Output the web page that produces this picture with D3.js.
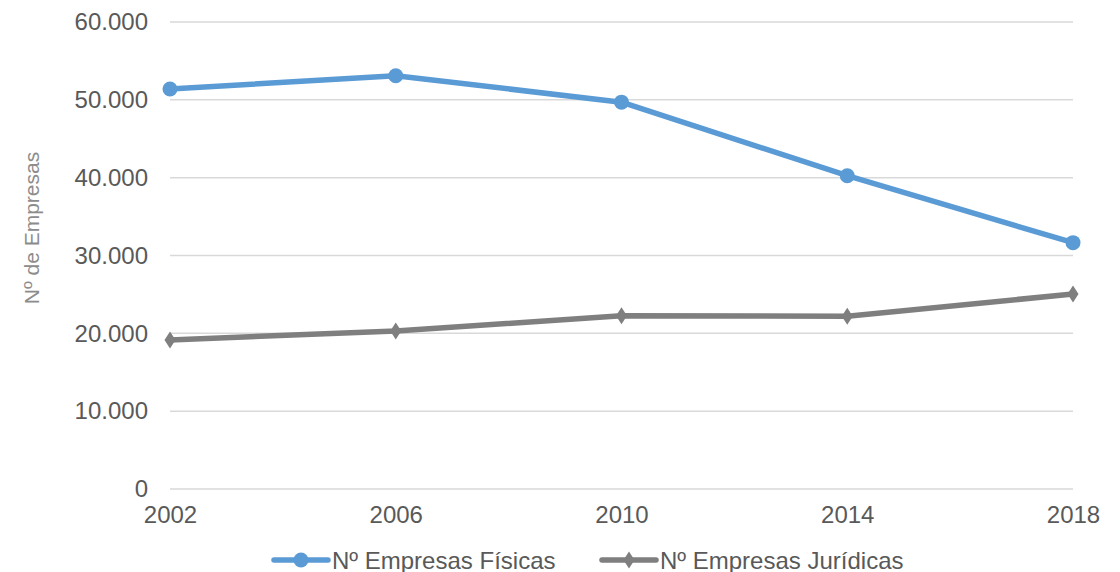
<!DOCTYPE html>
<html>
<head>
<meta charset="utf-8">
<script src="https://cdn.jsdelivr.net/npm/d3@7"></script>
<style>
  html, body { margin: 0; padding: 0; background: #fff; }
  svg { display: block; font-family: "Liberation Sans", Arial, sans-serif; }
</style>
</head>
<body>
<svg id="chart" width="1120" height="572"></svg>
<script>
// Number of companies by legal form
const years = ["2002", "2006", "2010", "2014", "2018"];
const fisicas = [51400, 53100, 49700, 40250, 31650];
const juridicas = [19150, 20300, 22250, 22200, 25050];
const yTicks = [0, 10000, 20000, 30000, 40000, 50000, 60000];
const seriesNames = ["Nº Empresas Físicas", "Nº Empresas Jurídicas"];

const svg = d3.select("#chart");
const margin = { left: 170, right: 47, top: 22, bottom: 83 };
const W = 1120, H = 572;

const x = d3.scalePoint().domain(years).range([margin.left, W - margin.right]);
const y = d3.scaleLinear().domain([0, 60000]).range([H - margin.bottom, margin.top]);

const fmt = v => d3.format(",")(v).replace(/,/g, ".");
const labelFont = "'Liberation Sans', Arial, sans-serif";

// horizontal gridlines
svg.append("g")
  .selectAll("line").data(yTicks).join("line")
  .attr("x1", margin.left).attr("x2", W - margin.right)
  .attr("y1", d => y(d)).attr("y2", d => y(d))
  .attr("stroke", "#d9d9d9").attr("stroke-width", 1.5);

// y axis labels
const yAxis = svg.append("g")
  .attr("transform", `translate(${margin.left - 22},0)`)
  .call(d3.axisLeft(y).tickValues(yTicks).tickFormat(fmt).tickSize(0).tickPadding(0));
yAxis.select(".domain").remove();
yAxis.selectAll("text")
  .attr("fill", "#595959").style("font-size", "24px").style("font-family", labelFont);

// x axis labels
const xAxis = svg.append("g")
  .attr("transform", `translate(0,${H - margin.bottom + 17})`)
  .call(d3.axisBottom(x).tickSize(0).tickPadding(0));
xAxis.select(".domain").remove();
xAxis.selectAll("text")
  .attr("fill", "#595959").style("font-size", "24px").style("font-family", labelFont);

// y axis title
svg.append("text")
  .attr("transform", "translate(39,228) rotate(-90)")
  .attr("text-anchor", "middle")
  .attr("fill", "#8c8c8c")
  .style("font-size", "21px")
  .text("Nº de Empresas");

const line = d3.line().x((d, i) => x(years[i])).y(d => y(d));
const blue = "#5b9bd5", grey = "#7f7f7f";
const diamond = "M0,-8.5L5.5,0L0,8.5L-5.5,0Z";

// Jurídicas series
svg.append("path").datum(juridicas)
  .attr("d", line).attr("fill", "none")
  .attr("stroke", grey).attr("stroke-width", 5.5).attr("stroke-linejoin", "round");
svg.append("g").selectAll("path").data(juridicas).join("path")
  .attr("d", diamond)
  .attr("transform", (d, i) => `translate(${x(years[i])},${y(d)})`)
  .attr("fill", grey);

// Físicas series
svg.append("path").datum(fisicas)
  .attr("d", line).attr("fill", "none")
  .attr("stroke", blue).attr("stroke-width", 5.5).attr("stroke-linejoin", "round");
svg.append("g").selectAll("circle").data(fisicas).join("circle")
  .attr("cx", (d, i) => x(years[i])).attr("cy", d => y(d))
  .attr("r", 7.5).attr("fill", blue);

// legend
const legend = svg.append("g").attr("transform", "translate(0,560)");
const items = [
  { name: seriesNames[0], color: blue, x0: 274, shape: "circle" },
  { name: seriesNames[1], color: grey, x0: 602, shape: "diamond" }
];
items.forEach(it => {
  const g = legend.append("g").attr("transform", `translate(${it.x0},0)`);
  g.append("line").attr("x1", 0).attr("x2", 54).attr("y1", 0).attr("y2", 0)
    .attr("stroke", it.color).attr("stroke-width", 5.5).attr("stroke-linecap", "round");
  if (it.shape === "circle") {
    g.append("circle").attr("cx", 27).attr("cy", 0).attr("r", 7.5).attr("fill", it.color);
  } else {
    g.append("path").attr("d", diamond).attr("transform", "translate(27,0)").attr("fill", it.color);
  }
  g.append("text").attr("x", 58).attr("y", 8.5)
    .attr("fill", "#595959").style("font-size", "24px").style("font-family", labelFont)
    .text(it.name);
});
</script>
</body>
</html>
